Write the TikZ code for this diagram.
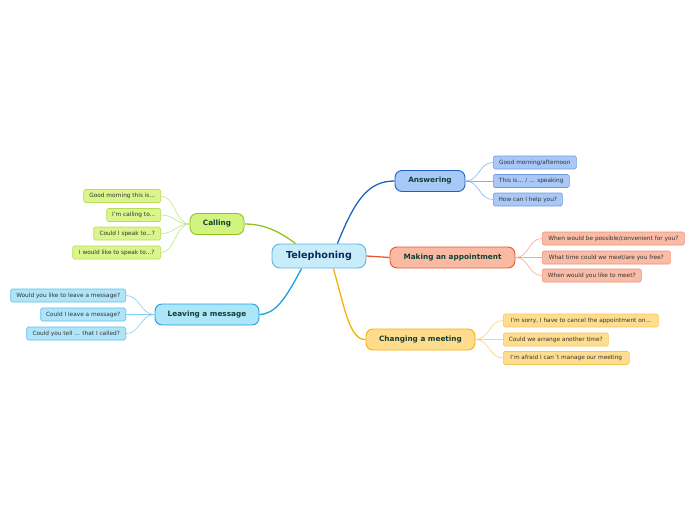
\documentclass[tikz,border=0pt]{standalone}
\usepackage{fontspec}
\setmainfont{DejaVu Sans}
\usetikzlibrary{calc}
\definecolor{rootF}{HTML}{C9ECFA}\definecolor{rootD}{HTML}{5DB3E3}\definecolor{rootT}{HTML}{0A2A5A}
\definecolor{calF}{HTML}{D2F37E}\definecolor{calD}{HTML}{92C31E}\definecolor{calLF}{HTML}{DAF58C}\definecolor{calLD}{HTML}{B6DD55}\definecolor{calLL}{HTML}{C6E28A}
\definecolor{ansF}{HTML}{A6C9F7}\definecolor{ansD}{HTML}{1F62C2}\definecolor{ansLF}{HTML}{A9C8F6}\definecolor{ansLD}{HTML}{6E9BE0}\definecolor{ansLL}{HTML}{8AB0EA}
\definecolor{makF}{HTML}{F9BAA3}\definecolor{makD}{HTML}{E8582D}\definecolor{makLF}{HTML}{F9BCA6}\definecolor{makLD}{HTML}{F09070}\definecolor{makLL}{HTML}{F5A88C}
\definecolor{chgF}{HTML}{FFDC8C}\definecolor{chgD}{HTML}{F4B10A}\definecolor{chgLF}{HTML}{FFDD90}\definecolor{chgLD}{HTML}{F7C650}\definecolor{chgLL}{HTML}{F9D27A}
\definecolor{levF}{HTML}{ADE5F9}\definecolor{levD}{HTML}{1DA1E2}\definecolor{levLF}{HTML}{B0E5F9}\definecolor{levLD}{HTML}{5DC0EE}\definecolor{levLL}{HTML}{7FCDF0}
\definecolor{brT}{HTML}{123F35}\definecolor{lfT}{HTML}{333333}
\tikzset{
  rootbox/.style={draw=rootD,fill=rootF,line width=0.9pt,rounded corners=8pt,minimum width=94pt,minimum height=24pt,inner sep=0pt,font=\fontsize{9.6}{11}\selectfont\bfseries,text=rootT},
  branchbox/.style={line width=0.9pt,rounded corners=7pt,minimum height=21pt,inner sep=0pt,font=\fontsize{7.3}{9}\selectfont\bfseries,text=brT},
  leafbox/.style={line width=0.6pt,rounded corners=1.5pt,minimum height=13pt,inner sep=0pt,font=\fontsize{5.8}{7}\selectfont,text=lfT},
  link/.style={line width=1.3pt},
  leaflink/.style={line width=0.6pt},
}
\begin{document}
\begin{tikzpicture}[x=1pt,y=-1pt]
\useasboundingbox (0,0) rectangle (696,520);
% root
\node[rootbox] (root) at (319,256) {Telephoning};
% branches
\node[branchbox,draw=calD,fill=calF,minimum width=54pt] (cal) at (217,224) {Calling};
\node[branchbox,draw=ansD,fill=ansF,minimum width=70pt] (ans) at (430,181) {Answering};
\node[branchbox,draw=makD,fill=makF,minimum width=125pt] (mak) at (452.5,257.5) {Making an appointment};
\node[branchbox,draw=chgD,fill=chgF,minimum width=109pt] (chg) at (420.5,339.5) {Changing a meeting};
\node[branchbox,draw=levD,fill=levF,minimum width=104pt] (lev) at (207,314.5) {Leaving a message};
% root connectors
\draw[link,draw=calD] ($(root.north west)+(24,0)$) .. controls (280,232) and (265,224) .. (cal.east);
\draw[link,draw=ansD] ($(root.north east)+(-29,0)$) .. controls (355,200) and (368,181) .. (ans.west);
\draw[link,draw=makD] (root.east) -- (mak.west);
\draw[link,draw=chgD] ($(root.south east)+(-33,0)$) .. controls (345,310) and (350,340) .. (chg.west);
\draw[link,draw=levD] ($(root.south west)+(30,0)$) .. controls (285,300) and (275,314) .. (lev.east);
% Calling leaves
\node[leafbox,draw=calLD,fill=calLF,minimum width=77pt,anchor=east] (c1) at (161,196) {Good morning this is...};
\node[leafbox,draw=calLD,fill=calLF,minimum width=54pt,anchor=east] (c2) at (161,215) {I'm calling to...};
\node[leafbox,draw=calLD,fill=calLF,minimum width=67pt,anchor=east] (c3) at (161,233.5) {Could I speak to...?};
\node[leafbox,draw=calLD,fill=calLF,minimum width=88pt,anchor=east] (c4) at (161,252.5) {I would like to speak to...?};
\foreach \n in {c1,c2,c3,c4}
  \draw[leaflink,draw=calLL] (cal.west) .. controls ($(cal.west)+(-14,0)$) and ($(\n.east)+(14,0)$) .. (\n.east);
% Answering leaves
\node[leafbox,draw=ansLD,fill=ansLF,minimum width=83pt,anchor=west] (a1) at (493,162.5) {Good morning/afternoon};
\node[leafbox,draw=ansLD,fill=ansLF,minimum width=76pt,anchor=west] (a2) at (493,181) {This is... / ... speaking};
\node[leafbox,draw=ansLD,fill=ansLF,minimum width=69pt,anchor=west] (a3) at (493,199.5) {How can I help you?};
\foreach \n in {a1,a2,a3}
  \draw[leaflink,draw=ansLL] (ans.east) .. controls ($(ans.east)+(14,0)$) and ($(\n.west)+(-14,0)$) .. (\n.west);
% Appointment leaves
\node[leafbox,draw=makLD,fill=makLF,minimum width=142pt,anchor=west] (m1) at (542,238.5) {When would be possible/convenient for you?};
\node[leafbox,draw=makLD,fill=makLF,minimum width=128pt,anchor=west] (m2) at (542,257.5) {What time could we meet/are you free?};
\node[leafbox,draw=makLD,fill=makLF,minimum width=99pt,anchor=west] (m3) at (542,275.5) {When would you like to meet?};
\foreach \n in {m1,m2,m3}
  \draw[leaflink,draw=makLL] (mak.east) .. controls ($(mak.east)+(14,0)$) and ($(\n.west)+(-14,0)$) .. (\n.west);
% Changing leaves
\node[leafbox,draw=chgLD,fill=chgLF,minimum width=155pt,anchor=west] (g1) at (503,320.5) {I'm sorry, I have to cancel the appointment on...};
\node[leafbox,draw=chgLD,fill=chgLF,minimum width=105pt,anchor=west] (g2) at (503,339.5) {Could we arrange another time?};
\node[leafbox,draw=chgLD,fill=chgLF,minimum width=126pt,anchor=west] (g3) at (503,358) {I'm afraid I can´t manage our meeting};
\foreach \n in {g1,g2,g3}
  \draw[leaflink,draw=chgLL] (chg.east) .. controls ($(chg.east)+(14,0)$) and ($(\n.west)+(-14,0)$) .. (\n.west);
% Leaving leaves
\node[leafbox,draw=levLD,fill=levLF,minimum width=115pt,anchor=east] (v1) at (126,295.5) {Would you like to leave a message?};
\node[leafbox,draw=levLD,fill=levLF,minimum width=85pt,anchor=east] (v2) at (126,314.5) {Could I leave a message?};
\node[leafbox,draw=levLD,fill=levLF,minimum width=99pt,anchor=east] (v3) at (126,333.5) {Could you tell ... that I called?};
\foreach \n in {v1,v2,v3}
  \draw[leaflink,draw=levLL] (lev.west) .. controls ($(lev.west)+(-14,0)$) and ($(\n.east)+(14,0)$) .. (\n.east);
\end{tikzpicture}
\end{document}
